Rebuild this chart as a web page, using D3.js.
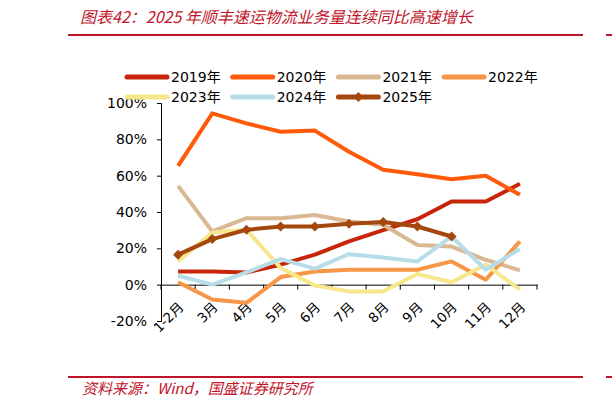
<!DOCTYPE html>
<html>
<head>
<meta charset="utf-8">
<script src="https://cdn.jsdelivr.net/npm/d3@7"></script>
<style>
  body { margin: 0; background: #fff; }
  svg { display: block; font-family: "DejaVu Sans", "Noto Sans CJK SC", sans-serif; }
  .cn { font-family: "Noto Sans CJK SC", sans-serif; font-style: italic; fill: #c0142a; }
</style>
</head>
<body>
<div class="chart"></div>
<script>
// Data (% yoy)
var categories = ["1-2月", "3月", "4月", "5月", "6月", "7月", "8月", "9月", "10月", "11月", "12月"];
var s2019 = [7.3, 7.2, 6.7, 11, 16.5, 23.8, 30, 36, 45.8, 45.8, 55.5];
var s2020 = [65.4, 94.3, 88.8, 84.2, 84.8, 73.2, 63.2, 60.8, 58, 60, 49.5];
var s2021 = [54.4, 29.3, 36.6, 36.6, 38.3, 34.8, 33, 21.8, 21, 13.7, 7.9];
var s2022 = [1.3, -8.2, -10, 4.2, 7.3, 8.2, 8.2, 8.2, 12.8, 2.7, 23.8];
var s2023 = [12.8, 28.7, 30.2, 9.2, -0.5, -3.7, -3.7, 5.9, 1.3, 11, -2.7];
var s2024 = [4.9, 0, 6.8, 14.1, 8.8, 16.8, 15, 12.8, 26.5, 8.2, 19.6];
var s2025 = [16.5, 25.1, 30.2, 32, 32, 33.5, 34.5, 32, 26.5];
var seriesNames = ["2019年", "2020年", "2021年", "2022年", "2023年", "2024年", "2025年"];
var yTicks = [-20, 0, 20, 40, 60, 80, 100];

var colors = ["#c8260b", "#ff5a0a", "#d9b993", "#f79646", "#f6e68c", "#b7dee8", "#a5480f"];
var allSeries = [s2019, s2020, s2021, s2022, s2023, s2024, s2025];

var svgWidth = 612;
var svgHeight = 409;

var svg = d3.select(".chart")
  .append("svg")
  .attr("width", svgWidth)
  .attr("height", svgHeight);

// Title and source, with red rules
svg.append("text")
  .attr("class", "cn")
  .attr("x", 80)
  .attr("y", 23)
  .style("font-size", "16px")
  .text("图表42：2025 年顺丰速运物流业务量连续同比高速增长");

svg.append("text")
  .attr("class", "cn")
  .attr("x", 82)
  .attr("y", 394)
  .style("font-size", "15px")
  .text("资料来源：Wind，国盛证券研究所");

[35, 377].forEach(function(y) {
  svg.append("line").attr("x1", 68).attr("x2", 583).attr("y1", y).attr("y2", y)
    .attr("stroke", "#c0142a").attr("stroke-width", 2);
  svg.append("line").attr("x1", 606).attr("x2", 612).attr("y1", y).attr("y2", y)
    .attr("stroke", "#c0142a").attr("stroke-width", 2);
});

// Scales
var xScale = d3.scaleBand()
  .domain(categories)
  .range([161, 537])
  .padding(0);

var yScale = d3.scaleLinear()
  .domain([-20, 100])
  .range([321, 103]);

var cx = function(i) { return xScale(categories[i]) + xScale.bandwidth() / 2; };

// Y axis
var leftAxis = d3.axisLeft(yScale)
  .tickValues(yTicks)
  .tickSize(4)
  .tickPadding(10)
  .tickFormat(function(d) { return d + "%"; });

var yg = svg.append("g")
  .attr("transform", "translate(161,0)")
  .call(leftAxis);
yg.select(".domain").attr("stroke", "#000");
yg.selectAll("text").style("font-size", "14px").attr("fill", "#000")
  .style("font-family", "DejaVu Sans");

// X axis sits on 0%
var bottomAxis = d3.axisBottom(xScale)
  .tickSize(0)
  .tickFormat("");

var xg = svg.append("g")
  .attr("transform", "translate(0," + yScale(0) + ")")
  .call(bottomAxis);
xg.select(".domain").attr("stroke", "#000");

// tick marks at category boundaries
var bounds = categories.map(function(c) { return xScale(c); }).concat([xScale.range()[1]]);
xg.selectAll("line.bound")
  .data(bounds)
  .enter()
  .append("line")
  .attr("class", "bound")
  .attr("x1", d => d).attr("x2", d => d)
  .attr("y1", 0).attr("y2", 5)
  .attr("stroke", "#000");

// rotated category labels
svg.append("g")
  .selectAll("text")
  .data(categories)
  .enter()
  .append("text")
  .attr("transform", function(d, i) { return "translate(" + (cx(i) + 3) + "," + (yScale(0) + 20) + ") rotate(-45)"; })
  .attr("text-anchor", "end")
  .attr("dy", "0.35em")
  .style("font-size", "13.5px")
  .text(d => d);

// Lines
var line = d3.line()
  .x(function(d, i) { return cx(i); })
  .y(function(d) { return yScale(d); });

allSeries.forEach(function(s, k) {
  svg.append("path")
    .datum(s)
    .attr("d", line)
    .attr("fill", "none")
    .attr("stroke", colors[k])
    .attr("stroke-width", 4)
    .attr("stroke-linejoin", "round");
});

// 2025 diamonds
var diamond = d3.symbol().type(d3.symbolSquare).size(50);
svg.append("g")
  .selectAll("path")
  .data(s2025)
  .enter()
  .append("path")
  .attr("d", diamond)
  .attr("transform", function(d, i) { return "translate(" + cx(i) + "," + yScale(d) + ") rotate(45)"; })
  .attr("fill", colors[6]);

// Legend
var legend = svg.append("g");
seriesNames.forEach(function(name, k) {
  var col = k < 4 ? k : k - 4;
  var row = k < 4 ? 0 : 1;
  var lx = 127 + col * 105.7;
  var ly = 77 + row * 20;
  legend.append("line")
    .attr("x1", lx).attr("x2", lx + 40)
    .attr("y1", ly).attr("y2", ly)
    .attr("stroke", colors[k])
    .attr("stroke-width", 5)
    .attr("stroke-linecap", "round");
  if (k === 6) {
    legend.append("path")
      .attr("d", diamond)
      .attr("transform", "translate(" + (lx + 20) + "," + ly + ") rotate(45)")
      .attr("fill", colors[k]);
  }
  legend.append("text")
    .attr("x", lx + 44)
    .attr("y", ly)
    .attr("dy", "0.36em")
    .style("font-size", "14px")
    .text(name);
});
</script>
</body>
</html>
